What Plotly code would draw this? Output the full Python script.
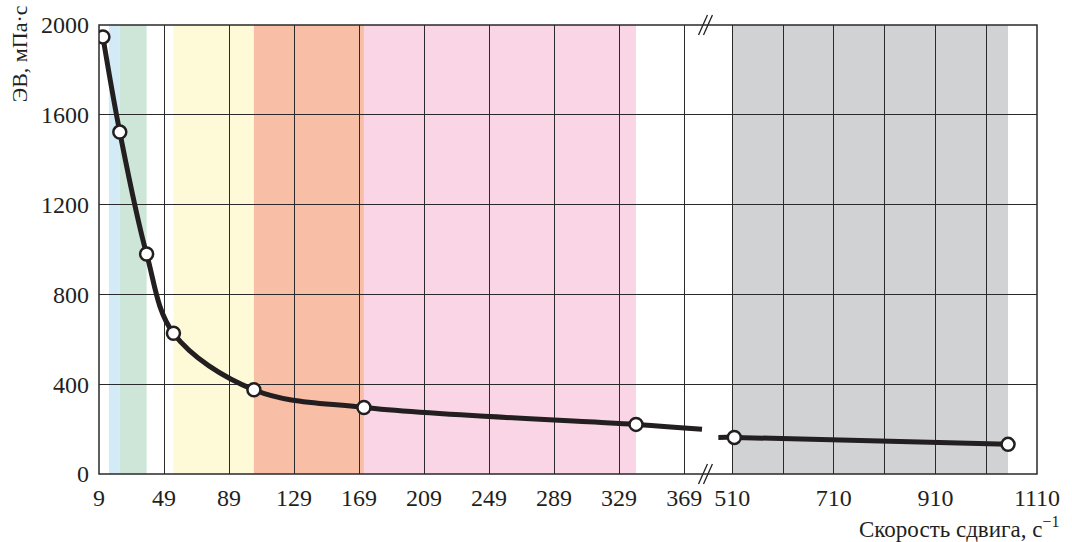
import plotly.graph_objects as go

# Measured apparent viscosity vs shear rate
shear_left = [11.4, 21.8, 38.3, 54.8, 104.3, 172.0, 339.4]
visc_left = [1947, 1523, 980, 627, 375, 296, 221]
shear_right = [514, 1053]
visc_right = [163, 132]

# Where the fitted curve is cut at the axis break
curve_left_end = (380.0, 199)
curve_right_start = (482.6, 163)

# Shaded shear-rate ranges: (start, end, colour, axis)
band_start = [15.1, 21.8, 54.8, 104.3, 172.0, 510.0]
band_end = [21.8, 38.3, 104.3, 172.0, 339.4, 1053.0]
band_color = ["#d3eaf7", "#cde6d7", "#fef9d7", "#f8bea6", "#f9d5e5", "#d1d2d4"]
band_axis = ["x", "x", "x", "x", "x", "x2"]

left_ticks = [9, 49, 89, 129, 169, 209, 249, 289, 329, 369]
right_ticks = [510, 610, 710, 810, 910, 1010, 1110]
right_ticktext = ["510", "", "710", "", "910", "", "1110"]
y_ticks = [0, 400, 800, 1200, 1600, 2000]

INK = "#231f20"
GRID = "#2a2a2a"
FONT = "Liberation Serif"

W, H = 1072, 542
ML, MR, MT, MB = 99, 28, 21, 68
PW = W - ML - MR
PH = H - MT - MB
SPLIT = (710 - ML) / PW  # break position within the plot area


def px_x(px):
    return (px - ML) / PW


def px_y(py):
    return (H - MB - py) / PH


fig = go.Figure()

line_style = dict(color=INK, width=5, shape="spline", smoothing=1.0)
marker_style = dict(size=13, color="white", line=dict(color=INK, width=2.5))

fig.add_trace(go.Scatter(
    x=shear_left + [curve_left_end[0]], y=visc_left + [curve_left_end[1]],
    mode="lines", line=line_style, xaxis="x", yaxis="y", hoverinfo="skip"))
fig.add_trace(go.Scatter(
    x=[curve_right_start[0]] + shear_right, y=[curve_right_start[1]] + visc_right,
    mode="lines", line=line_style, xaxis="x2", yaxis="y", hoverinfo="skip"))
fig.add_trace(go.Scatter(
    x=shear_left, y=visc_left, mode="markers", marker=marker_style,
    xaxis="x", yaxis="y"))
fig.add_trace(go.Scatter(
    x=shear_right, y=visc_right, mode="markers", marker=marker_style,
    xaxis="x2", yaxis="y"))

shapes = []
for x0, x1, c, ax in zip(band_start, band_end, band_color, band_axis):
    shapes.append(dict(type="rect", xref=ax, yref="y", x0=x0, x1=x1, y0=0, y1=2000,
                       fillcolor=c, line=dict(width=0), layer="below"))

# plot frame
shapes.append(dict(type="rect", xref="paper", yref="paper", x0=0, x1=1, y0=0, y1=1,
                   line=dict(color=GRID, width=1.5), layer="above"))

# axis-break marks on the top and bottom edges
for yc in (474, 21):
    for dx in (0, 5):
        shapes.append(dict(type="line", xref="paper", yref="paper",
                           x0=px_x(703 + dx), y0=px_y(yc + 10),
                           x1=px_x(712 + dx), y1=px_y(yc - 10),
                           line=dict(color=INK, width=1.3), layer="above"))

tickfont = dict(family=FONT, size=24, color=INK)
common_x = dict(showgrid=True, gridcolor=GRID, gridwidth=1.1, zeroline=False,
                showline=False, ticks="", tickfont=tickfont, fixedrange=True,
                ticklabelstandoff=7)

fig.update_layout(
    width=W, height=H,
    margin=dict(l=ML, r=MR, t=MT, b=MB),
    paper_bgcolor="white", plot_bgcolor="white",
    showlegend=False,
    shapes=shapes,
    xaxis=dict(domain=[0, SPLIT], range=[9, 9 + (710 - ML) / 1.6375],
               tickmode="array", tickvals=left_ticks, anchor="y", **common_x),
    xaxis2=dict(domain=[SPLIT, 1], range=[510 - (737 - 710) * 600 / 307, 1110],
                tickmode="array", tickvals=right_ticks, ticktext=right_ticktext,
                anchor="y", **common_x),
    yaxis=dict(range=[0, 2000], tickmode="array", tickvals=y_ticks,
               showgrid=True, gridcolor=GRID, gridwidth=1.1, zeroline=False,
               showline=False, ticks="", tickfont=tickfont, anchor="x",
               fixedrange=True, ticklabelstandoff=9),
    annotations=[
        dict(text="ЭВ, мПа·с", textangle=-90, xref="paper", yref="paper",
             x=px_x(19), y=px_y(50), xanchor="center", yanchor="middle",
             showarrow=False, font=dict(family=FONT, size=22, color=INK)),
        dict(text="Скорость сдвига, с<sup>−1</sup>", xref="paper", yref="paper",
             x=px_x(1068), y=px_y(528), xanchor="right", yanchor="middle",
             showarrow=False, font=dict(family=FONT, size=23, color=INK)),
    ],
)

fig.write_html("out.html")
